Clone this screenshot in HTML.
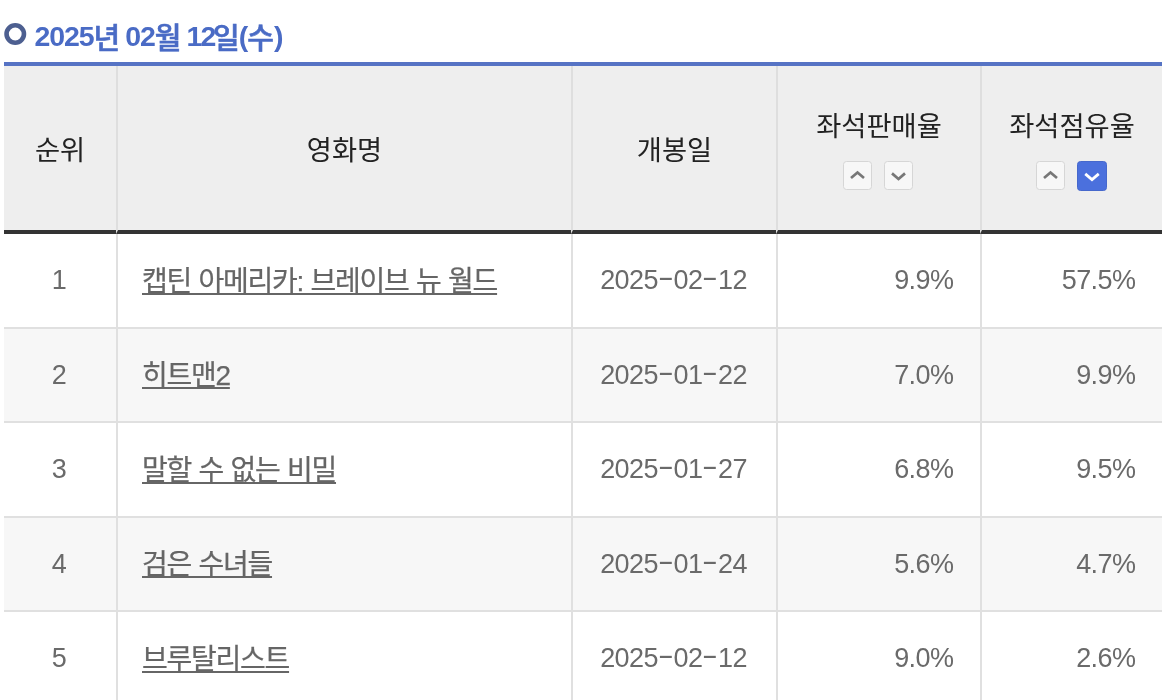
<!DOCTYPE html>
<html lang="ko">
<head>
<meta charset="utf-8">
<title>좌석점유율</title>
<style>
html,body{margin:0;padding:0;background:#fff;}
body{width:1162px;height:700px;overflow:hidden;position:relative;
  font-family:"Liberation Sans","Noto Sans CJK KR",sans-serif;}
.title{position:absolute;left:0;top:18px;height:40px;line-height:40px;white-space:nowrap;
  font-weight:700;color:#4a6bc5;}
.title .bul{position:absolute;left:0;top:0;width:32px;height:40px;}
.title .txt{position:absolute;left:34.5px;top:0;font-size:0;}
.title .d{font-size:28.5px;letter-spacing:-1.1px;word-spacing:1.2px;position:relative;top:-2px;}
.title .h{font-size:29px;font-weight:500;-webkit-text-stroke:0.6px #4a6bc5;letter-spacing:-2.9px;position:relative;top:0.5px;}
.title .s{display:inline-block;width:8px;}
table{position:absolute;left:4px;top:62px;width:1158px;border-collapse:separate;border-spacing:0;table-layout:fixed;
  border-top:4px solid #5673c4;}
th{background:#eee;height:163px;padding:0 0 1px 0;font-weight:400;font-size:27.3px;color:#222;text-align:center;
  border-left:2px solid #dedede;border-bottom:4px solid #333;vertical-align:middle;}
th:first-child,td:first-child{border-left:none;}
td{height:92px;padding:0;font-size:27px;letter-spacing:-0.55px;font-weight:400;color:#6a6a6a;border-left:2px solid #e0e0e0;border-bottom:2px solid #e0e0e0;text-align:center;}
tr.h93 td{height:93px;}
tr.even td{background:#f7f7f7;}
td.nm{text-align:left;padding-left:24px;}
td.nm a{color:#666;-webkit-text-stroke:0.25px #666;font-size:28px;letter-spacing:-1.25px;word-spacing:0.95px;text-decoration:underline;text-underline-offset:2px;text-decoration-thickness:2px;position:relative;top:-2px;}
td.r{text-align:right;padding-right:26.5px;}
td.rk{padding-right:2px;}
.hy{display:inline-block;width:15.5px;text-align:center;letter-spacing:0;transform:scaleX(1.8) translateY(-3.5px);}
td.dt{padding-right:2px;}
th .lbl{display:block;position:relative;top:-4.5px;}
.btns{display:block;margin-top:10px;height:29px;font-size:0;position:relative;top:3px;left:-1px;}
.btn{display:inline-block;box-sizing:border-box;width:29px;height:29px;border:1px solid #d6d6d6;border-radius:3.5px;background:#f7f7f7;margin:0 6px;vertical-align:top;}
.btn.on{background:#4b70dd;border-color:#4668cc;width:30px;height:30px;margin-right:5px;}
.btn.on svg{width:28px;height:28px;}
.btn svg{display:block;width:27px;height:27px;}
</style>
</head>
<body>
<div class="title"><svg class="bul" viewBox="0 0 32 40"><circle cx="15.25" cy="16" r="8.7" fill="none" stroke="#4d5f90" stroke-width="4.6"/></svg><span class="txt"><span class="d">2025</span><span class="h">년</span><span class="d"> 02</span><span class="h">월</span><span class="d" style="letter-spacing:-1.9px;margin-left:.8px"> 12</span><span class="h" style="margin-left:-1.6px">일</span><span class="d" style="margin-left:2px">(</span><span class="h">수</span><span class="d" style="margin-left:3.2px">)</span></span></div>
<table>
<colgroup><col style="width:112px"><col style="width:455px"><col style="width:205px"><col style="width:204px"><col style="width:182px"></colgroup>
<thead>
<tr>
<th>순위</th>
<th>영화명</th>
<th>개봉일</th>
<th><span class="lbl">좌석판매율</span><span class="btns"><span class="btn"><svg viewBox="0 0 27 27"><path d="M7 16 L13.5 10.55 L20 16" fill="none" stroke="#777" stroke-width="2.7"/></svg></span><span class="btn"><svg viewBox="0 0 27 27"><path d="M7 11.4 L13.5 16.95 L20 11.4" fill="none" stroke="#777" stroke-width="2.7"/></svg></span></span></th>
<th><span class="lbl">좌석점유율</span><span class="btns"><span class="btn"><svg viewBox="0 0 27 27"><path d="M7 16 L13.5 10.55 L20 16" fill="none" stroke="#777" stroke-width="2.7"/></svg></span><span class="btn on"><svg viewBox="0 0 27 27"><path d="M7 11.4 L13.5 16.95 L20 11.4" fill="none" stroke="#fff" stroke-width="2.7"/></svg></span></span></th>
</tr>
</thead>
<tbody>
<tr class="h93"><td class="rk">1</td><td class="nm"><a>캡틴 아메리카: 브레이브 뉴 월드</a></td><td class="dt">2025<span class="hy">-</span>02<span class="hy">-</span>12</td><td class="r">9.9%</td><td class="r">57.5%</td></tr>
<tr class="even"><td class="rk">2</td><td class="nm"><a>히트맨2</a></td><td class="dt">2025<span class="hy">-</span>01<span class="hy">-</span>22</td><td class="r">7.0%</td><td class="r">9.9%</td></tr>
<tr class="h93"><td class="rk">3</td><td class="nm"><a>말할 수 없는 비밀</a></td><td class="dt">2025<span class="hy">-</span>01<span class="hy">-</span>27</td><td class="r">6.8%</td><td class="r">9.5%</td></tr>
<tr class="even"><td class="rk">4</td><td class="nm"><a>검은 수녀들</a></td><td class="dt">2025<span class="hy">-</span>01<span class="hy">-</span>24</td><td class="r">5.6%</td><td class="r">4.7%</td></tr>
<tr class="h93"><td class="rk">5</td><td class="nm"><a>브루탈리스트</a></td><td class="dt">2025<span class="hy">-</span>02<span class="hy">-</span>12</td><td class="r">9.0%</td><td class="r">2.6%</td></tr>
</tbody>
</table>
</body>
</html>
